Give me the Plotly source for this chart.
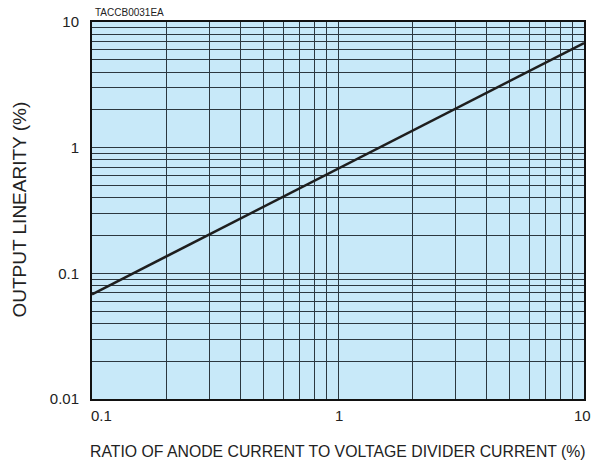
import numpy as np
import plotly.graph_objects as go

# line data
ratio = [0.1, 10]
linearity = [0.068, 6.8]

x_labels = ["0.1", "1", "10"]
y_labels = ["0.01", "0.1", "1", "10"]

# grid positions at every 1..9 step of each decade
x_grid = [m * 10.0 ** e for e in range(-1, 1) for m in range(1, 10)] + [10]
y_grid = [m * 10.0 ** e for e in range(-2, 1) for m in range(1, 10)] + [10]

def label_for(v, labels):
    for t in labels:
        if abs(float(t) - v) < 1e-9:
            return t
    return ""

grid_color = "#2c3840"
font = "Liberation Sans, Arial, sans-serif"

fig = go.Figure()
fig.add_trace(go.Scatter(
    x=ratio, y=linearity, mode="lines",
    line=dict(color="#1e1e1e", width=2.6),
    showlegend=False, hoverinfo="skip",
))

fig.update_xaxes(
    type="log", range=[-1, 1],
    tickmode="array", tickvals=x_grid, ticktext=["" for v in x_grid],
    showgrid=True, gridcolor=grid_color, gridwidth=1.2,
    showline=True, linecolor="#111", linewidth=2, mirror=True,
    ticks="", zeroline=False,
)
fig.update_yaxes(
    type="log", range=[-2, 1],
    tickmode="array", tickvals=y_grid,
    ticktext=[label_for(v, y_labels) for v in y_grid],
    showgrid=True, gridcolor=grid_color, gridwidth=1.2,
    showline=True, linecolor="#111", linewidth=2, mirror=True,
    ticks="", zeroline=False, ticklabelstandoff=8,
    tickfont=dict(size=15, color="#222", family=font),
)

# x tick labels placed on the log axis
anchor = {"0.1": ("left", -3), "1": ("center", 1), "10": ("center", -2)}
for t in x_labels:
    xa, xs = anchor[t]
    fig.add_annotation(
        x=np.log10(float(t)), y=0, xref="x", yref="paper",
        text=t, showarrow=False, yanchor="middle", yshift=-16,
        xanchor=xa, xshift=xs,
        font=dict(size=15, color="#222", family=font),
    )

fig.add_annotation(
    x=0.5, y=0, xref="paper", yref="paper", yanchor="middle", yshift=-52,
    text="RATIO OF ANODE CURRENT TO VOLTAGE DIVIDER CURRENT (%)",
    showarrow=False, font=dict(size=15.8, color="#222", family=font),
)
fig.add_annotation(
    x=0, y=0.5, xref="paper", yref="paper", xanchor="center", xshift=-73,
    yshift=1, textangle=-90,
    text="OUTPUT LINEARITY (%)",
    showarrow=False, font=dict(size=19, color="#222", family=font),
)
fig.add_annotation(
    x=0, y=1, xref="paper", yref="paper", xanchor="left", yanchor="middle",
    yshift=10, xshift=1, text="TACCB0031EA", showarrow=False,
    font=dict(size=10, color="#222", family=font),
)

fig.update_layout(
    width=591, height=461,
    margin=dict(l=92, r=7, t=22, b=62, autoexpand=False),
    plot_bgcolor="#c8e9f9", paper_bgcolor="white",
)

# drop the page's default body margin so the figure fills the window
fig.write_html("out.html", config={"displayModeBar": False},
               post_script="document.body.style.margin='0';document.body.style.overflow='hidden';")
